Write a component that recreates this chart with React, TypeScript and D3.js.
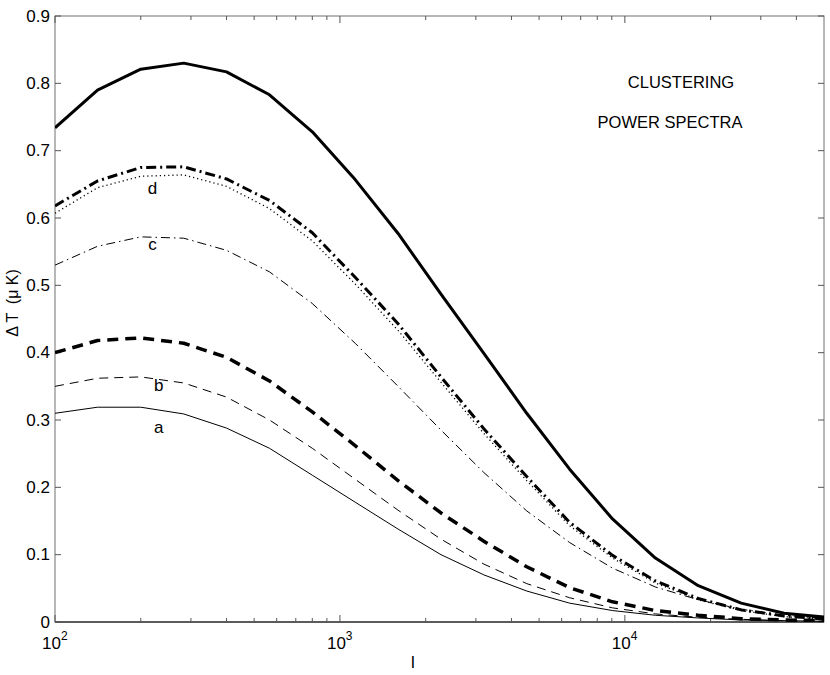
import * as d3 from 'd3';
import { useEffect, useRef } from 'react';

// multipole values where the curves were sampled (factor sqrt(2) apart)
const ells = [100, 141, 200, 283, 400, 566, 800, 1131, 1600, 2263, 3200, 4525, 6400, 9051, 12800, 18102, 25600, 36204, 51200];

const curveA = [0.31, 0.319, 0.319, 0.309, 0.288, 0.258, 0.218, 0.178, 0.138, 0.1, 0.07, 0.046, 0.028, 0.017, 0.01, 0.006, 0.003, 0.002, 0.001];
const curveB = [0.35, 0.362, 0.364, 0.355, 0.334, 0.3, 0.258, 0.212, 0.166, 0.123, 0.086, 0.057, 0.036, 0.021, 0.012, 0.007, 0.004, 0.002, 0.001];
const curveBThick = [0.4, 0.418, 0.422, 0.414, 0.393, 0.358, 0.312, 0.262, 0.21, 0.162, 0.12, 0.082, 0.051, 0.03, 0.017, 0.01, 0.005, 0.003, 0.002];
const curveC = [0.53, 0.558, 0.572, 0.57, 0.552, 0.52, 0.473, 0.414, 0.35, 0.285, 0.222, 0.165, 0.118, 0.08, 0.052, 0.033, 0.019, 0.01, 0.005];
const curveD = [0.607, 0.645, 0.662, 0.664, 0.647, 0.614, 0.566, 0.502, 0.433, 0.356, 0.28, 0.21, 0.143, 0.095, 0.058, 0.033, 0.017, 0.008, 0.004];
const curveDThick = [0.618, 0.655, 0.675, 0.676, 0.658, 0.626, 0.578, 0.512, 0.443, 0.364, 0.287, 0.216, 0.148, 0.099, 0.061, 0.035, 0.018, 0.009, 0.004];
const curveTotal = [0.734, 0.79, 0.821, 0.83, 0.817, 0.783, 0.728, 0.657, 0.577, 0.487, 0.399, 0.31, 0.227, 0.153, 0.095, 0.054, 0.028, 0.013, 0.007];

const yTicks = [0, 0.1, 0.2, 0.3, 0.4, 0.5, 0.6, 0.7, 0.8, 0.9];
const xMajor = [100, 1000, 10000];
const xMinor = [200, 300, 400, 500, 600, 700, 800, 900, 2000, 3000, 4000, 5000, 6000, 7000, 8000, 9000, 20000, 30000, 40000];

const curveLabels = [
  { text: 'a', l: 200, v: 0.28 },
  { text: 'b', l: 200, v: 0.343 },
  { text: 'c', l: 190, v: 0.553 },
  { text: 'd', l: 190, v: 0.635 },
];

const series = [
  { values: curveA, width: 1, dash: null },
  { values: curveB, width: 1, dash: '9,6' },
  { values: curveBThick, width: 3.5, dash: '11,7' },
  { values: curveC, width: 1, dash: '9,4,1.5,4' },
  { values: curveD, width: 1.3, dash: '1.2,3' },
  { values: curveDThick, width: 3, dash: '10,4,2,4' },
  { values: curveTotal, width: 3, dash: null },
];

const FONT = "'Liberation Sans', Arial, Helvetica, sans-serif";

export default function App() {
  const svgRef = useRef<SVGSVGElement>(null);

  useEffect(() => {
    document.body.style.margin = '0';
    if (!svgRef.current) return;
    const width = 830;
    const height = 675;
    const left = 55, right = 824, top = 16, bottom = 622;

    const svg = d3.select(svgRef.current);
    svg.selectAll('*').remove();
    svg.attr('width', width).attr('height', height).style('background', '#fff');

    const x = d3.scaleLog().domain([100, 50000]).range([left, right]);
    const y = d3.scaleLinear().domain([0, 0.9]).range([bottom, top]);

    svg.append('clipPath').attr('id', 'plot-clip')
      .append('rect').attr('x', left).attr('y', top).attr('width', right - left).attr('height', bottom - top);

    // Frame
    svg.append('rect')
      .attr('x', left).attr('y', top).attr('width', right - left).attr('height', bottom - top)
      .attr('fill', 'none').attr('stroke', '#707070').attr('stroke-width', 1);
    svg.append('line')
      .attr('x1', left).attr('x2', right).attr('y1', bottom).attr('y2', bottom)
      .attr('stroke', '#000').attr('stroke-width', 1.2);

    // Y ticks
    const yt = svg.append('g');
    yTicks.forEach((t) => {
      yt.append('line').attr('x1', left).attr('x2', left + 6).attr('y1', y(t)).attr('y2', y(t)).attr('stroke', '#555');
      yt.append('line').attr('x1', right - 6).attr('x2', right).attr('y1', y(t)).attr('y2', y(t)).attr('stroke', '#555');
      yt.append('text')
        .attr('x', 50).attr('y', y(t))
        .attr('text-anchor', 'end').attr('dominant-baseline', 'central')
        .attr('font-family', FONT).attr('font-size', 17).attr('fill', '#000')
        .text(t === 0 ? '0' : t.toFixed(1));
    });

    // X ticks
    const xt = svg.append('g');
    xMinor.forEach((t) => {
      xt.append('line').attr('x1', x(t)).attr('x2', x(t)).attr('y1', bottom).attr('y2', bottom - 4).attr('stroke', '#555');
      xt.append('line').attr('x1', x(t)).attr('x2', x(t)).attr('y1', top).attr('y2', top + 4).attr('stroke', '#555');
    });
    xMajor.forEach((t) => {
      xt.append('line').attr('x1', x(t)).attr('x2', x(t)).attr('y1', bottom).attr('y2', bottom - 7).attr('stroke', '#555');
      xt.append('line').attr('x1', x(t)).attr('x2', x(t)).attr('y1', top).attr('y2', top + 7).attr('stroke', '#555');
      const label = xt.append('text')
        .attr('x', x(t) - 13).attr('y', 649)
        .attr('font-family', FONT).attr('font-size', 17).attr('fill', '#000');
      label.append('tspan').text('10');
      label.append('tspan').attr('dy', -9).attr('font-size', 12).text(String(Math.round(Math.log10(t))));
    });

    // Curves
    const line = d3.line<number>()
      .x((_, i) => x(ells[i]))
      .y((d) => y(d));
    const g = svg.append('g').attr('clip-path', 'url(#plot-clip)');
    series.forEach((s) => {
      g.append('path')
        .datum(s.values)
        .attr('d', line)
        .attr('fill', 'none')
        .attr('stroke', '#000')
        .attr('stroke-width', s.width)
        .attr('stroke-linejoin', 'round')
        .attr('stroke-dasharray', s.dash);
    });

    // Curve labels
    curveLabels.forEach((c) => {
      svg.append('text')
        .attr('x', x(c.l) + 18).attr('y', y(c.v))
        .attr('text-anchor', 'middle')
        .attr('font-family', FONT).attr('font-size', 17).attr('fill', '#000')
        .text(c.text);
    });

    // Annotation
    svg.append('text').attr('x', 681).attr('y', 88).attr('text-anchor', 'middle')
      .attr('font-family', FONT).attr('font-size', 16.5).attr('fill', '#000').text('CLUSTERING');
    svg.append('text').attr('x', 670).attr('y', 128).attr('text-anchor', 'middle')
      .attr('font-family', FONT).attr('font-size', 16.5).attr('fill', '#000').text('POWER SPECTRA');

    // Axis titles
    svg.append('text').attr('x', 413).attr('y', 668).attr('text-anchor', 'middle')
      .attr('font-family', FONT).attr('font-size', 17).attr('fill', '#000').text('l');
    svg.append('text')
      .attr('transform', 'translate(18, 303) rotate(-90)')
      .attr('text-anchor', 'middle')
      .attr('font-family', FONT).attr('font-size', 16).attr('fill', '#000')
      .attr('xml:space', 'preserve')
      .text('\u0394 T  (\u03bc K)');
  }, []);

  return <svg ref={svgRef} />;
}
